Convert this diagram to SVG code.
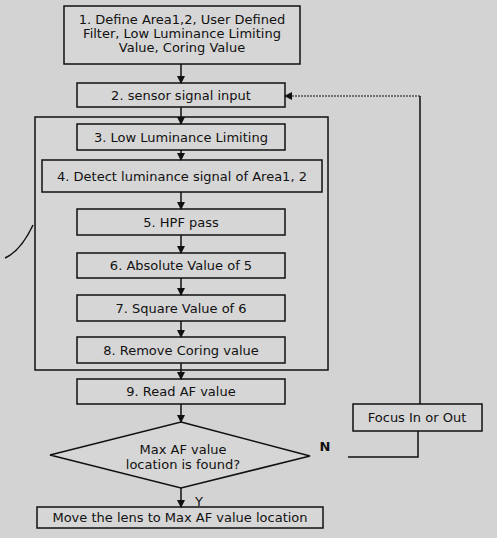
<svg xmlns="http://www.w3.org/2000/svg" width="497" height="538" viewBox="0 0 497 538">
<defs>
<style>
.bx{fill:#d6d6d6;stroke:#111;stroke-width:1.5}
.t{font-family:"DejaVu Sans","Liberation Sans",sans-serif;font-size:13px;fill:#111;text-anchor:middle}
.ln{stroke:#111;stroke-width:1.5;fill:none}
</style>
<marker id="ah" markerWidth="8" markerHeight="8" refX="7" refY="4" orient="auto" markerUnits="userSpaceOnUse">
<path d="M0,0 L8,4 L0,8 z" fill="#111"/>
</marker>
</defs>
<rect width="497" height="538" fill="#d3d3d3"/>
<g id="container"><rect class="bx" x="35" y="117" width="293" height="253"/></g>
<g id="n1"><rect class="bx" x="64" y="6" width="236" height="58"/>
<text class="t" x="182" y="24">1. Define Area1,2, User Defined</text>
<text class="t" x="182" y="38">Filter, Low Luminance Limiting</text>
<text class="t" x="182" y="52">Value, Coring Value</text></g>
<g id="n2"><rect class="bx" x="77" y="83" width="208" height="24"/><text class="t" x="181" y="100">2. sensor signal input</text></g>
<g id="n3"><rect class="bx" x="77" y="124" width="208" height="26"/><text class="t" x="181" y="142">3. Low Luminance Limiting</text></g>
<g id="n4"><rect class="bx" x="42" y="160" width="280" height="32"/><text class="t" x="182" y="181">4. Detect luminance signal of Area1, 2</text></g>
<g id="n5"><rect class="bx" x="77" y="209" width="208" height="26"/><text class="t" x="181" y="227">5. HPF pass</text></g>
<g id="n6"><rect class="bx" x="77" y="253" width="208" height="25"/><text class="t" x="181" y="270">6. Absolute Value of 5</text></g>
<g id="n7"><rect class="bx" x="77" y="295" width="208" height="26"/><text class="t" x="181" y="313">7. Square Value of 6</text></g>
<g id="n8"><rect class="bx" x="77" y="337" width="208" height="26"/><text class="t" x="181" y="355">8. Remove Coring value</text></g>
<g id="n9"><rect class="bx" x="77" y="379" width="208" height="25"/><text class="t" x="181" y="396">9. Read AF value</text></g>
<g id="d1"><polygon class="bx" points="181,422 310,456 181,488 50,455"/>
<text class="t" x="183" y="454">Max AF value</text><text class="t" x="183" y="469">location is found?</text></g>
<g id="n10"><rect class="bx" x="37" y="507" width="286" height="21"/><text class="t" x="180" y="522">Move the lens to Max AF value location</text></g>
<g id="nf"><rect class="bx" x="353" y="404" width="129" height="27"/><text class="t" x="417" y="422">Focus In or Out</text></g>
<g id="connectors">
<line class="ln" x1="181" y1="64" x2="181" y2="83" marker-end="url(#ah)"/>
<line class="ln" x1="181" y1="107" x2="181" y2="124" marker-end="url(#ah)"/>
<line class="ln" x1="181" y1="150" x2="181" y2="160" marker-end="url(#ah)"/>
<line class="ln" x1="181" y1="192" x2="181" y2="209" marker-end="url(#ah)"/>
<line class="ln" x1="181" y1="235" x2="181" y2="253" marker-end="url(#ah)"/>
<line class="ln" x1="181" y1="278" x2="181" y2="295" marker-end="url(#ah)"/>
<line class="ln" x1="181" y1="321" x2="181" y2="337" marker-end="url(#ah)"/>
<line class="ln" x1="181" y1="363" x2="181" y2="379" marker-end="url(#ah)"/>
<line class="ln" x1="181" y1="404" x2="181" y2="422" marker-end="url(#ah)"/>
<line class="ln" x1="181" y1="488" x2="181" y2="507" marker-end="url(#ah)"/>
<polyline class="ln" points="348,457 418,457 418,431"/>
<line class="ln" x1="420" y1="404" x2="420" y2="96"/>
<line x1="420" y1="96" x2="285" y2="96" stroke="#111" stroke-width="1.2" stroke-dasharray="2,1" marker-end="url(#ah)"/>
<path class="ln" d="M5,258 C18,252 26,240 33,225" stroke-width="1.2"/>
<text class="t" x="325" y="451" font-weight="bold" font-size="11">N</text>
<text class="t" x="199" y="506" font-size="12">Y</text>
</g>
</svg>
